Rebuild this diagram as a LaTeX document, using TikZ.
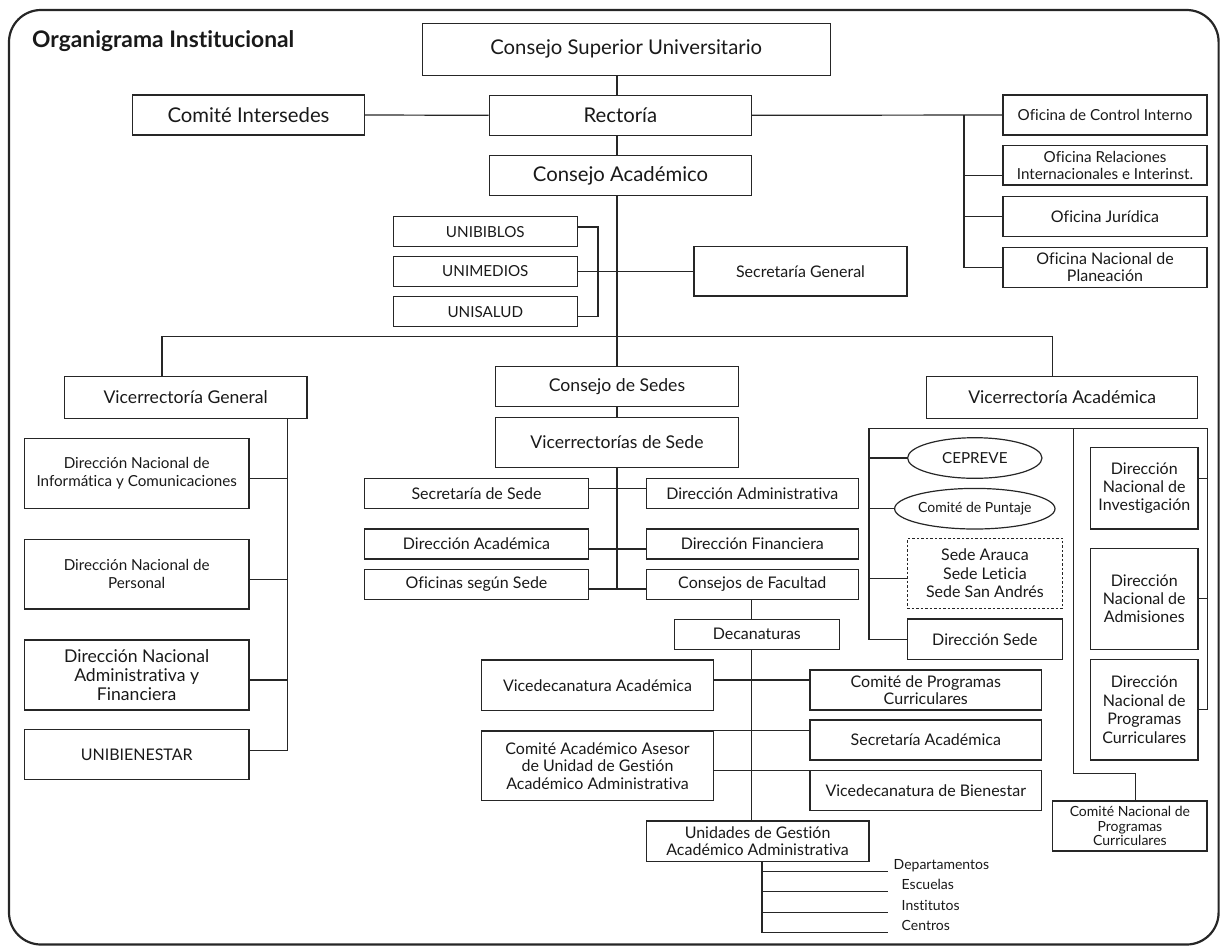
\documentclass[tikz,border=0pt]{standalone}
\usepackage{fontspec}
\setmainfont{Lato}[Ligatures=NoCommon]
\usetikzlibrary{shapes.geometric}

\newcommand{\sizeA}{\fontsize{20.3}{22}\selectfont}
\newcommand{\sizeH}{\fontsize{17.6}{19}\selectfont}
\newcommand{\sizeB}{\fontsize{16}{17.5}\selectfont}
\newcommand{\sizeC}{\fontsize{15.2}{18.5}\selectfont}
\newcommand{\sizeD}{\fontsize{14}{14.7}\selectfont}

\tikzset{
  orgbox/.style={draw=black!85, line width=1.2pt, align=center, inner sep=0pt, text=black!90},
  bigbox/.style={orgbox, font=\sizeA},
  headbox/.style={orgbox, font=\sizeH},
  midbox/.style={orgbox, font=\sizeB},
  smallbox/.style={orgbox, font=\sizeC},
  tinybox/.style={orgbox, font=\sizeD},
  oval/.style={orgbox, ellipse},
  link/.style={draw=black!85, line width=1.2pt},
  listlabel/.style={font=\sizeD, text=black!90, anchor=base west, inner sep=0pt},
}

\begin{document}
\begin{tikzpicture}[x=1pt, y=-1pt]
  \useasboundingbox (0,0) rectangle (1220,946);
  \draw[draw=black!85, line width=2.2pt, rounded corners=32pt] (9,10) rectangle (1218.6,944.5);
  \node[anchor=base west, inner sep=0pt, font=\fontsize{22.8}{25}\selectfont\bfseries, text=black!90] (title) at (32,47.5) {Organigrama Institucional};

  % direccion central
  \node[bigbox, minimum width=408, minimum height=52] (csu) at (626.2,49.2) {Consejo Superior Universitario};
  \node[bigbox, minimum width=232, minimum height=40] (cint) at (248.5,115) {Comité Intersedes};
  \node[bigbox, minimum width=262, minimum height=40] (rect) at (620.3,115.3) {Rectoría};
  \node[bigbox, minimum width=262, minimum height=40] (cacad) at (620.5,175.7) {Consejo Académico};
  \node[smallbox, minimum width=184, minimum height=30] (ubib) at (485.3,231.7) {UNIBIBLOS};
  \node[smallbox, minimum width=184, minimum height=30] (umed) at (485.3,271.3) {UNIMEDIOS};
  \node[smallbox, minimum width=184, minimum height=30] (usal) at (485.3,311.7) {UNISALUD};
  \node[midbox, minimum width=213, minimum height=49.4] (sgen) at (800.5,271.3) {Secretaría General};

  % oficinas de rectoria
  \node[smallbox, minimum width=204, minimum height=40] (ofci) at (1105,115) {Oficina de Control Interno};
  \node[smallbox, font=\fontsize{15.2}{16.5}\selectfont, minimum width=204, minimum height=39.3] (ofri) at (1105,165.3) {Oficina Relaciones\\Internacionales e Interinst.};
  \node[midbox, minimum width=204, minimum height=40] (ofj) at (1105,216.7) {Oficina Jurídica};
  \node[midbox, font=\fontsize{16}{16.7}\selectfont, minimum width=204, minimum height=40] (ofnp) at (1105,267.3) {Oficina Nacional de\\Planeación};

  % vicerrectoria general
  \node[headbox, minimum width=242.5, minimum height=41.6] (vg) at (185.7,397.5) {Vicerrectoría General};
  \node[smallbox, minimum width=224.5, minimum height=70] (dni) at (136.7,473.3) {Dirección Nacional de\\Informática y Comunicaciones};
  \node[smallbox, minimum width=224.5, minimum height=69.7] (dnp) at (136.7,574.2) {Dirección Nacional de\\Personal};
  \node[headbox, minimum width=224.5, minimum height=70] (dnaf) at (136.7,675) {Dirección Nacional\\Administrativa y\\Financiera};
  \node[midbox, minimum width=224.5, minimum height=50] (ubien) at (136.7,754.3) {UNIBIENESTAR};

  % sedes
  \node[headbox, minimum width=243, minimum height=40] (csedes) at (617,386.7) {Consejo de Sedes};
  \node[headbox, minimum width=243, minimum height=49.6] (vsede) at (617,442.5) {Vicerrectorías de Sede};
  \node[midbox, minimum width=224, minimum height=30] (ssede) at (476.5,493.3) {Secretaría de Sede};
  \node[midbox, minimum width=224, minimum height=30] (dacad) at (476.5,544) {Dirección Académica};
  \node[midbox, minimum width=224, minimum height=30] (ofsede) at (476.5,584.3) {Oficinas según Sede};
  \node[midbox, minimum width=212, minimum height=30] (dadm) at (752.3,493.3) {Dirección Administrativa};
  \node[midbox, minimum width=212, minimum height=30] (dfin) at (752.3,544) {Dirección Financiera};
  \node[midbox, minimum width=212, minimum height=30] (cfac) at (752.3,584.3) {Consejos de Facultad};

  % facultades
  \node[midbox, minimum width=165, minimum height=30] (decan) at (756.8,634.3) {Decanaturas};
  \node[midbox, minimum width=231.6, minimum height=50.7] (vdacad) at (597.5,685.3) {Vicedecanatura Académica};
  \node[midbox, minimum width=231.6, minimum height=69.7] (caa) at (597.5,765.8) {Comité Académico Asesor\\de Unidad de Gestión\\Académico Administrativa};
  \node[midbox, minimum width=231.7, minimum height=40] (cpc) at (925.8,690) {Comité de Programas\\Curriculares};
  \node[midbox, minimum width=231.7, minimum height=40] (secac) at (925.8,740) {Secretaría Académica};
  \node[midbox, minimum width=231.7, minimum height=40] (vdb) at (925.8,790.7) {Vicedecanatura de Bienestar};
  \node[midbox, minimum width=222.6, minimum height=40.7] (ugaa) at (757.6,841.3) {Unidades de Gestión\\Académico Administrativa};

  % vicerrectoria academica
  \node[headbox, minimum width=271.3, minimum height=41.6] (va) at (1062.2,397.5) {Vicerrectoría Académica};
  \node[oval, font=\sizeC, minimum width=134.4, minimum height=40.6] (ceprev) at (974.8,458) {CEPREVE};
  \node[oval, font=\sizeD, minimum width=134.4, minimum height=40.6] (cpunt) at (974.8,508.7) {Comité de Puntaje};
  \node[midbox, font=\fontsize{16}{18.3}\selectfont, line width=1pt, dash pattern=on 2.5pt off 2pt, minimum width=155.4, minimum height=70] (sedes3) at (984.9,573.3) {Sede Arauca\\Sede Leticia\\Sede San Andrés};
  \node[midbox, minimum width=155.4, minimum height=40.3] (dsede) at (984.9,639.2) {Dirección Sede};
  \node[midbox, font=\fontsize{16}{18.3}\selectfont, minimum width=107.2, minimum height=81.7] (dninv) at (1144.3,488.2) {Dirección\\Nacional de\\Investigación};
  \node[midbox, font=\fontsize{16}{18.3}\selectfont, minimum width=107.2, minimum height=101] (dnadm) at (1144.3,598.8) {Dirección\\Nacional de\\Admisiones};
  \node[midbox, font=\fontsize{16}{18.6}\selectfont, minimum width=107.2, minimum height=100.7] (dnpc) at (1144.3,709.7) {Dirección\\Nacional de\\Programas\\Curriculares};
  \node[tinybox, minimum width=154.3, minimum height=50] (cnpc) at (1129.9,826) {Comité Nacional de\\Programas\\Curriculares};

  % tronco principal
  \coordinate (trunk) at (617,336.7);
  \coordinate (busL) at (162,336.7);
  \coordinate (busR) at (1052.7,336.7);
  \draw[link] (trunk |- csu.south) -- (trunk |- rect.north);
  \draw[link] (trunk |- rect.south) -- (trunk |- cacad.north);
  \draw[link] (trunk |- cacad.south) -- (csedes.north);
  \draw[link] (busL |- vg.north) -- (busL) -- (busR) -- (busR |- va.north);
  \draw[link] (cint.east) -- (rect.west);

  % oficinas
  \coordinate (ofbus) at (964,115);
  \draw[link] (rect.east) -- (ofci.west);
  \draw[link] (ofbus) |- (ofnp.west);
  \draw[link] ([yshift=-10pt]ofri.west -| ofbus) -- ([yshift=-10pt]ofri.west);
  \draw[link] (ofj.west -| ofbus) -- (ofj.west);

  % unidades
  \draw[link] ([yshift=4.7pt]ubib.east) -- ++(20,0) |- ([yshift=-5pt]usal.east);
  \draw[link] (umed.east) -- (sgen.west);

  % vicerrectoria general
  \coordinate (vgbus) at (287.5,418.3);
  \draw[link] (vgbus) |- ([yshift=4pt]ubien.east);
  \foreach \n in {dni,dnp,dnaf}
    \draw[link] ([yshift=-5pt]\n.east) -- ([yshift=-5pt]\n.east -| vgbus);

  % sedes
  \draw[link] (csedes.south) -- (vsede.north);
  \draw[link] (vsede.south) -- ([yshift=-4.7pt]vsede.south |- ofsede.east);
  \draw[link] ([yshift=5pt]ssede.east) -- ([yshift=5pt]dadm.west);
  \draw[link] ([yshift=-5pt]dacad.east) -- ([yshift=-5pt]dfin.west);
  \draw[link] ([yshift=-4.7pt]ofsede.east) -- ([yshift=-4.7pt]cfac.west);

  % facultades
  \coordinate (facx) at (751.7,0);
  \draw[link] (facx |- cfac.south) -- (facx |- decan.north);
  \draw[link] (facx |- decan.south) -- (facx |- ugaa.north);
  \draw[link] ([yshift=5.3pt]vdacad.east) -- ([yshift=5.3pt]vdacad.east -| cpc.west);
  \draw[link] (caa.north east) -- (caa.north east -| secac.west);
  \draw[link] (vdb.north west -| caa.east) -- (vdb.north west);

  % unidades de gestion
  \coordinate (ugx) at (762,0);
  \coordinate (dep) at (887.5,871.7);
  \coordinate (esc) at (887.5,891.7);
  \coordinate (ins) at (887.5,912.3);
  \coordinate (cen) at (887.5,932.7);
  \draw[link] (ugx |- ugaa.south) |- (cen);
  \foreach \n in {dep,esc,ins}
    \draw[link] (ugx |- \n) -- (\n);
  \node[listlabel] (tdep) at ([xshift=6pt,yshift=2pt]dep) {Departamentos};
  \node[listlabel] (tesc) at ([xshift=14pt,yshift=2pt]esc) {Escuelas};
  \node[listlabel] (tins) at ([xshift=14pt,yshift=2pt]ins) {Institutos};
  \node[listlabel] (tcen) at ([xshift=14pt,yshift=2pt]cen) {Centros};

  % vicerrectoria academica
  \coordinate (vaL) at (869,428.3);
  \coordinate (vaM) at (1073.7,428.3);
  \coordinate (vaR) at (1207.7,428.3);
  \coordinate (cnbend) at (1135.8,773.3);
  \draw[link] (dsede.west) -| (vaL) -- (vaR) |- (dnpc.east);
  \draw[link] (vaM) |- (cnbend) -- (cnbend |- cnpc.north);
  \foreach \n in {ceprev,cpunt}
    \draw[link] (\n.west) -- (\n.west -| vaL);
  \draw[link] ([yshift=-5pt]sedes3.west) -- ([yshift=-5pt]sedes3.west -| vaL);
  \draw[link] ([yshift=10pt]dninv.east) -- ([yshift=10pt]dninv.east -| vaR);
  \draw[link] (dnadm.east) -- (dnadm.east -| vaR);
\end{tikzpicture}
\end{document}
